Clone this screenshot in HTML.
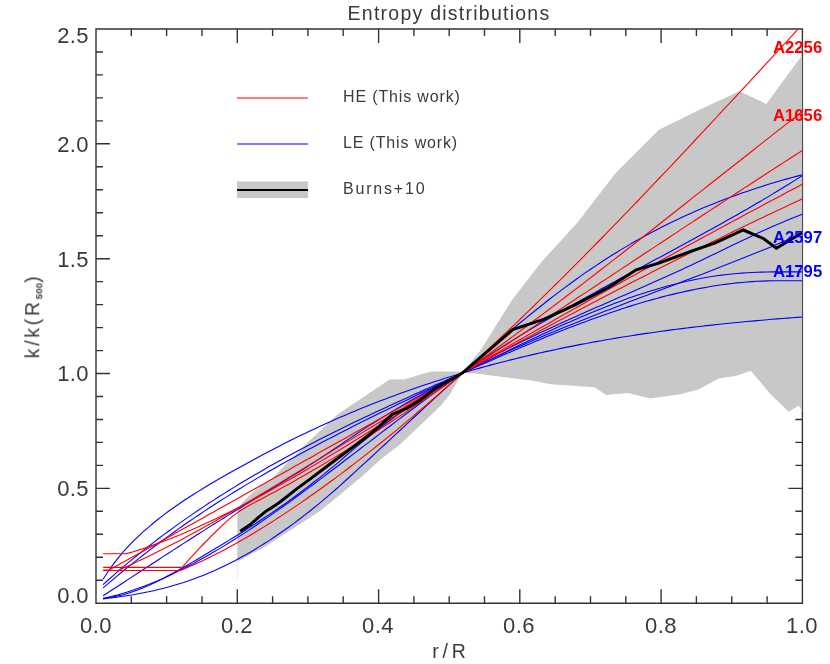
<!DOCTYPE html>
<html><head><meta charset="utf-8"><title>Entropy distributions</title>
<style>
html,body{margin:0;padding:0;background:#fff;}
body{width:830px;height:664px;position:relative;overflow:hidden;font-family:"Liberation Sans",sans-serif;}
.t{position:absolute;line-height:1;white-space:nowrap;will-change:transform;}
</style></head><body>
<svg width="830" height="664" viewBox="0 0 830 664" style="position:absolute;left:0;top:0">
<defs><clipPath id="cp"><rect x="96.0" y="29.0" width="706.4" height="574.2"/></clipPath></defs>
<path d="M96.0 29.0H802.4V603.2H96.0Z M96.0 29.0v14 M96.0 603.2v-14 M131.3 29.0v7 M131.3 603.2v-7 M166.6 29.0v7 M166.6 603.2v-7 M202.0 29.0v7 M202.0 603.2v-7 M237.3 29.0v14 M237.3 603.2v-14 M272.6 29.0v7 M272.6 603.2v-7 M307.9 29.0v7 M307.9 603.2v-7 M343.2 29.0v7 M343.2 603.2v-7 M378.6 29.0v14 M378.6 603.2v-14 M413.9 29.0v7 M413.9 603.2v-7 M449.2 29.0v7 M449.2 603.2v-7 M484.5 29.0v7 M484.5 603.2v-7 M519.8 29.0v14 M519.8 603.2v-14 M555.2 29.0v7 M555.2 603.2v-7 M590.5 29.0v7 M590.5 603.2v-7 M625.8 29.0v7 M625.8 603.2v-7 M661.1 29.0v14 M661.1 603.2v-14 M696.4 29.0v7 M696.4 603.2v-7 M731.8 29.0v7 M731.8 603.2v-7 M767.1 29.0v7 M767.1 603.2v-7 M802.4 29.0v14 M802.4 603.2v-14 M96.0 603.2h14 M802.4 603.2h-14 M96.0 580.2h7 M802.4 580.2h-7 M96.0 557.3h7 M802.4 557.3h-7 M96.0 534.3h7 M802.4 534.3h-7 M96.0 511.3h7 M802.4 511.3h-7 M96.0 488.4h14 M802.4 488.4h-14 M96.0 465.4h7 M802.4 465.4h-7 M96.0 442.4h7 M802.4 442.4h-7 M96.0 419.5h7 M802.4 419.5h-7 M96.0 396.5h7 M802.4 396.5h-7 M96.0 373.5h14 M802.4 373.5h-14 M96.0 350.6h7 M802.4 350.6h-7 M96.0 327.6h7 M802.4 327.6h-7 M96.0 304.6h7 M802.4 304.6h-7 M96.0 281.6h7 M802.4 281.6h-7 M96.0 258.7h14 M802.4 258.7h-14 M96.0 235.7h7 M802.4 235.7h-7 M96.0 212.7h7 M802.4 212.7h-7 M96.0 189.8h7 M802.4 189.8h-7 M96.0 166.8h7 M802.4 166.8h-7 M96.0 143.8h14 M802.4 143.8h-14 M96.0 120.9h7 M802.4 120.9h-7 M96.0 97.9h7 M802.4 97.9h-7 M96.0 74.9h7 M802.4 74.9h-7 M96.0 52.0h7 M802.4 52.0h-7 M96.0 29.0h14 M802.4 29.0h-14" fill="none" stroke="#333" stroke-width="1.4"/>
<g clip-path="url(#cp)" fill="none" stroke-linejoin="round">
<path d="M237.3 511.5 L238.3 508.6 L241.5 503.8 L245.1 499.8 L250.4 494.5 L255.7 490.0 L259.3 487.3 L271.4 479.0 L288.3 462.0 L309.3 441.0 L337.5 414.4 L389.5 379.4 L404.3 379.4 L430.7 371.6 L458.1 371.6 L462.3 373.1 L481.1 349.6 L498.0 322.2 L512.7 299.0 L542.2 261.1 L577.5 222.4 L615.9 172.7 L658.9 129.7 L700.0 109.4 L739.5 91.3 L766.3 103.9 L802.4 54.8 L802.4 412.3 L798.8 405.5 L788.7 411.8 L770.6 394.2 L750.8 370.8 L735.7 376.1 L718.8 378.6 L698.3 389.4 L680.2 394.2 L650.1 398.6 L628.4 393.0 L606.3 395.0 L594.2 387.3 L550.8 384.2 L531.6 380.6 L512.3 378.2 L476.0 373.4 L462.3 373.1 L449.6 394.8 L441.2 405.3 L400.0 444.5 L381.2 458.9 L361.3 477.0 L334.2 499.6 L320.0 511.0 L307.1 519.5 L286.5 532.7 L263.9 547.4 L237.3 561.5Z" fill="#c8c8c8" stroke="none"/>
<path d="M237.3 561V579" stroke="#ececec" stroke-width="1"/>
<path d="M103.1 579.3 L108.1 571.5 L113.2 564.4 L118.2 557.8 L123.2 551.8 L128.3 546.3 L133.3 541.1 L138.3 536.3 L143.3 531.7 L148.4 527.3 L153.4 523.0 L158.4 519.0 L163.5 515.1 L168.5 511.3 L173.5 507.7 L178.6 504.2 L183.6 500.8 L188.6 497.5 L193.7 494.3 L198.7 491.1 L203.7 488.0 L208.7 485.0 L213.8 482.0 L218.8 479.1 L223.8 476.2 L228.9 473.3 L233.9 470.5 L238.9 467.7 L244.0 464.9 L249.0 462.2 L254.0 459.4 L259.1 456.7 L264.1 454.0 L269.1 451.4 L274.2 448.7 L279.2 446.2 L284.2 443.6 L289.2 441.1 L294.3 438.6 L299.3 436.1 L304.3 433.7 L309.4 431.3 L314.4 428.9 L319.4 426.6 L324.5 424.3 L329.5 422.0 L334.5 419.8 L339.6 417.6 L344.6 415.4 L349.6 413.3 L354.6 411.2 L359.7 409.1 L364.7 407.1 L369.7 405.1 L374.8 403.1 L379.8 401.1 L384.8 399.2 L389.9 397.3 L394.9 395.4 L399.9 393.6 L405.0 391.8 L410.0 390.0 L415.0 388.3 L420.0 386.5 L425.1 384.8 L430.1 383.2 L435.1 381.5 L440.2 379.9 L445.2 378.3 L450.2 376.7 L455.3 375.2 L460.3 373.7 L465.3 372.2 L470.4 370.7 L475.4 369.3 L480.4 367.9 L485.5 366.5 L490.5 365.1 L495.5 363.8 L500.5 362.5 L505.6 361.2 L510.6 359.9 L515.6 358.7 L520.7 357.4 L525.7 356.2 L530.7 355.1 L535.8 353.9 L540.8 352.8 L545.8 351.6 L550.9 350.6 L555.9 349.5 L560.9 348.4 L565.9 347.4 L571.0 346.4 L576.0 345.4 L581.0 344.4 L586.1 343.5 L591.1 342.5 L596.1 341.6 L601.2 340.7 L606.2 339.8 L611.2 339.0 L616.3 338.1 L621.3 337.3 L626.3 336.5 L631.3 335.7 L636.4 334.9 L641.4 334.1 L646.4 333.4 L651.5 332.7 L656.5 332.0 L661.5 331.3 L666.6 330.6 L671.6 329.9 L676.6 329.3 L681.7 328.6 L686.7 328.0 L691.7 327.4 L696.8 326.8 L701.8 326.2 L706.8 325.6 L711.8 325.1 L716.9 324.5 L721.9 324.0 L726.9 323.5 L732.0 323.0 L737.0 322.5 L742.0 322.0 L747.1 321.5 L752.1 321.1 L757.1 320.6 L762.2 320.2 L767.2 319.7 L772.2 319.3 L777.2 318.9 L782.3 318.5 L787.3 318.1 L792.3 317.7 L797.4 317.4 L802.4 317.0" stroke="#0000ff" stroke-width="1.1"/>
<path d="M103.1 584.6 L108.1 580.0 L113.2 575.6 L118.2 571.2 L123.2 566.9 L128.3 562.7 L133.3 558.6 L138.3 554.5 L143.3 550.4 L148.4 546.5 L153.4 542.6 L158.4 538.7 L163.5 534.9 L168.5 531.2 L173.5 527.6 L178.6 523.9 L183.6 520.4 L188.6 516.9 L193.7 513.4 L198.7 510.0 L203.7 506.6 L208.7 503.3 L213.8 500.1 L218.8 496.8 L223.8 493.6 L228.9 490.5 L233.9 487.4 L238.9 484.3 L244.0 481.3 L249.0 478.3 L254.0 475.3 L259.1 472.4 L264.1 469.5 L269.1 466.6 L274.2 463.8 L279.2 461.0 L284.2 458.2 L289.2 455.5 L294.3 452.8 L299.3 450.1 L304.3 447.4 L309.4 444.8 L314.4 442.2 L319.4 439.6 L324.5 437.0 L329.5 434.5 L334.5 432.0 L339.6 429.5 L344.6 427.0 L349.6 424.6 L354.6 422.1 L359.7 419.7 L364.7 417.3 L369.7 415.0 L374.8 412.6 L379.8 410.2 L384.8 407.9 L389.9 405.6 L394.9 403.3 L399.9 401.0 L405.0 398.7 L410.0 396.4 L415.0 394.1 L420.0 391.9 L425.1 389.6 L430.1 387.4 L435.1 385.1 L440.2 382.9 L445.2 380.7 L450.2 378.4 L455.3 376.2 L460.3 374.0 L465.3 371.8 L470.4 369.5 L475.4 367.3 L480.4 365.1 L485.5 362.9 L490.5 360.7 L495.5 358.5 L500.5 356.3 L505.6 354.1 L510.6 352.0 L515.6 349.8 L520.7 347.6 L525.7 345.5 L530.7 343.4 L535.8 341.3 L540.8 339.2 L545.8 337.1 L550.9 335.1 L555.9 333.1 L560.9 331.1 L565.9 329.1 L571.0 327.1 L576.0 325.2 L581.0 323.3 L586.1 321.4 L591.1 319.5 L596.1 317.7 L601.2 315.9 L606.2 314.2 L611.2 312.4 L616.3 310.7 L621.3 309.1 L626.3 307.4 L631.3 305.9 L636.4 304.3 L641.4 302.8 L646.4 301.3 L651.5 299.9 L656.5 298.5 L661.5 297.1 L666.6 295.8 L671.6 294.6 L676.6 293.4 L681.7 292.2 L686.7 291.1 L691.7 290.1 L696.8 289.0 L701.8 288.1 L706.8 287.2 L711.8 286.3 L716.9 285.5 L721.9 284.8 L726.9 284.1 L732.0 283.5 L737.0 282.9 L742.0 282.5 L747.1 282.0 L752.1 281.6 L757.1 281.3 L762.2 281.1 L767.2 280.9 L772.2 280.8 L777.2 280.8 L782.3 280.8 L787.3 280.8 L792.3 280.8 L797.4 280.8 L802.4 280.8" stroke="#0000ff" stroke-width="1.1"/>
<path d="M103.1 587.9 L108.1 583.6 L113.2 579.4 L118.2 575.2 L123.2 571.0 L128.3 566.9 L133.3 562.9 L138.3 558.9 L143.3 555.0 L148.4 551.1 L153.4 547.3 L158.4 543.5 L163.5 539.8 L168.5 536.1 L173.5 532.5 L178.6 528.9 L183.6 525.3 L188.6 521.8 L193.7 518.4 L198.7 515.0 L203.7 511.6 L208.7 508.3 L213.8 505.0 L218.8 501.8 L223.8 498.6 L228.9 495.4 L233.9 492.3 L238.9 489.2 L244.0 486.1 L249.0 483.1 L254.0 480.1 L259.1 477.1 L264.1 474.2 L269.1 471.3 L274.2 468.4 L279.2 465.6 L284.2 462.7 L289.2 460.0 L294.3 457.2 L299.3 454.4 L304.3 451.7 L309.4 449.0 L314.4 446.4 L319.4 443.7 L324.5 441.1 L329.5 438.5 L334.5 435.9 L339.6 433.3 L344.6 430.7 L349.6 428.2 L354.6 425.6 L359.7 423.1 L364.7 420.6 L369.7 418.1 L374.8 415.6 L379.8 413.1 L384.8 410.7 L389.9 408.2 L394.9 405.8 L399.9 403.3 L405.0 400.9 L410.0 398.4 L415.0 396.0 L420.0 393.6 L425.1 391.1 L430.1 388.7 L435.1 386.3 L440.2 383.8 L445.2 381.4 L450.2 379.0 L455.3 376.5 L460.3 374.1 L465.3 371.6 L470.4 369.2 L475.4 366.7 L480.4 364.2 L485.5 361.8 L490.5 359.3 L495.5 356.9 L500.5 354.4 L505.6 351.9 L510.6 349.5 L515.6 347.1 L520.7 344.6 L525.7 342.2 L530.7 339.8 L535.8 337.5 L540.8 335.1 L545.8 332.7 L550.9 330.4 L555.9 328.1 L560.9 325.8 L565.9 323.6 L571.0 321.4 L576.0 319.2 L581.0 317.0 L586.1 314.9 L591.1 312.8 L596.1 310.7 L601.2 308.7 L606.2 306.7 L611.2 304.7 L616.3 302.8 L621.3 300.9 L626.3 299.1 L631.3 297.3 L636.4 295.6 L641.4 293.9 L646.4 292.3 L651.5 290.7 L656.5 289.2 L661.5 287.7 L666.6 286.3 L671.6 285.0 L676.6 283.7 L681.7 282.5 L686.7 281.3 L691.7 280.2 L696.8 279.2 L701.8 278.2 L706.8 277.3 L711.8 276.5 L716.9 275.8 L721.9 275.1 L726.9 274.5 L732.0 274.0 L737.0 273.5 L742.0 273.1 L747.1 272.8 L752.1 272.5 L757.1 272.3 L762.2 272.1 L767.2 272.0 L772.2 271.9 L777.2 271.9 L782.3 271.9 L787.3 271.9 L792.3 271.9 L797.4 271.9 L802.4 271.9" stroke="#0000ff" stroke-width="1.1"/>
<path d="M103.1 595.8 L108.1 592.5 L113.2 589.2 L118.2 586.0 L123.2 582.7 L128.2 579.4 L133.3 576.1 L138.3 572.8 L143.3 569.5 L148.4 566.3 L153.4 563.0 L158.4 559.7 L163.5 556.4 L168.5 553.2 L173.5 549.9 L178.5 546.7 L183.6 543.4 L188.6 540.2 L193.6 537.0 L198.7 533.8 L203.7 530.6 L208.7 527.4 L213.7 524.3 L218.8 521.1 L223.8 518.0 L228.8 514.9 L233.9 511.8 L238.9 508.7 L243.9 505.6 L249.0 502.5 L254.0 499.5 L259.0 496.4 L264.0 493.3 L269.1 490.3 L274.1 487.2 L279.1 484.1 L284.2 481.0 L289.2 477.9 L294.2 474.8 L299.3 471.7 L304.3 468.5 L309.3 465.3 L314.3 462.1 L319.4 458.8 L324.4 455.5 L329.4 452.2 L334.5 448.8 L339.5 445.4 L344.5 442.0 L349.5 438.6 L354.6 435.2 L359.6 431.9 L364.6 428.6 L369.7 425.4 L374.7 422.2 L379.7 419.1 L384.8 416.0 L389.8 412.9 L394.8 409.9 L399.8 406.9 L404.9 404.0 L409.9 401.1 L414.9 398.2 L420.0 395.4 L425.0 392.6 L430.0 389.9 L435.0 387.2 L440.1 384.5 L445.1 381.9 L450.1 379.3 L455.2 376.7 L460.2 374.2 L465.2 371.7 L470.3 369.2 L475.3 366.7 L480.3 364.3 L485.3 361.9 L490.4 359.5 L495.4 357.2 L500.4 354.9 L505.5 352.6 L510.5 350.3 L515.5 348.1 L520.5 345.9 L525.6 343.7 L530.6 341.5 L535.6 339.3 L540.7 337.2 L545.7 335.1 L550.7 333.0 L555.8 330.9 L560.8 328.8 L565.8 326.8 L570.8 324.7 L575.9 322.7 L580.9 320.7 L585.9 318.7 L591.0 316.7 L596.0 314.7 L601.0 312.8 L606.0 310.8 L611.1 308.9 L616.1 306.9 L621.1 305.0 L626.2 303.1 L631.2 301.1 L636.2 299.2 L641.3 297.3 L646.3 295.4 L651.3 293.5 L656.3 291.6 L661.4 289.7 L666.4 287.8 L671.4 285.9 L676.5 283.9 L681.5 282.0 L686.5 280.1 L691.6 278.2 L696.6 276.3 L701.6 274.4 L706.6 272.4 L711.7 270.5 L716.7 268.5 L721.7 266.6 L726.8 264.6 L731.8 262.6 L736.8 260.6 L741.8 258.6 L746.9 256.6 L751.9 254.6 L756.9 252.6 L762.0 250.5 L767.0 248.4 L772.0 246.4 L777.1 244.2 L782.1 242.1 L787.1 240.0 L792.1 237.8 L797.2 235.7 L802.2 233.5" stroke="#0000ff" stroke-width="1.1"/>
<path d="M103.1 598.3 L108.1 597.7 L113.2 596.9 L118.2 595.9 L123.2 594.7 L128.2 593.2 L133.3 591.5 L138.3 589.7 L143.3 587.7 L148.4 585.5 L153.4 583.2 L158.4 580.8 L163.5 578.3 L168.5 575.6 L173.5 572.9 L178.5 570.1 L183.6 567.3 L188.6 564.4 L193.6 561.4 L198.7 558.5 L203.7 555.5 L208.7 552.5 L213.7 549.5 L218.8 546.5 L223.8 543.5 L228.8 540.4 L233.9 537.3 L238.9 534.2 L243.9 531.0 L249.0 527.8 L254.0 524.6 L259.0 521.3 L264.0 518.0 L269.1 514.6 L274.1 511.2 L279.1 507.7 L284.2 504.2 L289.2 500.6 L294.2 497.0 L299.3 493.3 L304.3 489.5 L309.3 485.7 L314.3 481.8 L319.4 477.9 L324.4 473.9 L329.4 469.7 L334.5 465.6 L339.5 461.3 L344.5 457.0 L349.5 452.6 L354.6 448.3 L359.6 444.1 L364.6 440.0 L369.7 436.0 L374.7 432.0 L379.7 428.1 L384.8 424.3 L389.8 420.5 L394.8 416.8 L399.8 413.2 L404.9 409.6 L409.9 406.1 L414.9 402.7 L420.0 399.3 L425.0 396.0 L430.0 392.7 L435.0 389.5 L440.1 386.4 L445.1 383.3 L450.1 380.3 L455.2 377.3 L460.2 374.3 L465.2 371.4 L470.3 368.6 L475.3 365.8 L480.3 363.0 L485.3 360.3 L490.4 357.6 L495.4 355.0 L500.4 352.3 L505.5 349.8 L510.5 347.2 L515.5 344.7 L520.5 342.2 L525.6 339.8 L530.6 337.4 L535.6 335.0 L540.7 332.6 L545.7 330.2 L550.7 327.9 L555.8 325.6 L560.8 323.3 L565.8 321.0 L570.8 318.8 L575.9 316.5 L580.9 314.3 L585.9 312.0 L591.0 309.8 L596.0 307.6 L601.0 305.4 L606.0 303.2 L611.1 301.0 L616.1 298.8 L621.1 296.6 L626.2 294.4 L631.2 292.2 L636.2 290.0 L641.3 287.8 L646.3 285.6 L651.3 283.3 L656.3 281.1 L661.4 278.8 L666.4 276.6 L671.4 274.3 L676.5 272.0 L681.5 269.7 L686.5 267.3 L691.6 265.0 L696.6 262.6 L701.6 260.2 L706.6 257.8 L711.7 255.3 L716.7 252.9 L721.7 250.5 L726.8 248.0 L731.8 245.6 L736.8 243.2 L741.8 240.8 L746.9 238.4 L751.9 236.0 L756.9 233.6 L762.0 231.3 L767.0 229.0 L772.0 226.8 L777.1 224.6 L782.1 222.4 L787.1 220.3 L792.1 218.2 L797.2 216.2 L802.2 214.2" stroke="#0000ff" stroke-width="1.1"/>
<path d="M103.1 598.6 L108.1 597.4 L113.2 596.1 L118.2 594.8 L123.2 593.3 L128.2 591.7 L133.3 590.1 L138.3 588.3 L143.3 586.4 L148.4 584.5 L153.4 582.5 L158.4 580.4 L163.5 578.2 L168.5 575.9 L173.5 573.5 L178.5 571.1 L183.6 568.6 L188.6 566.0 L193.6 563.4 L198.7 560.6 L203.7 557.8 L208.7 555.0 L213.7 552.1 L218.8 549.1 L223.8 546.1 L228.8 543.0 L233.9 539.8 L238.9 536.6 L243.9 533.4 L249.0 530.1 L254.0 526.7 L259.0 523.3 L264.0 519.9 L269.1 516.4 L274.1 512.9 L279.1 509.4 L284.2 505.8 L289.2 502.2 L294.2 498.5 L299.3 494.8 L304.3 491.1 L309.3 487.4 L314.3 483.7 L319.4 479.9 L324.4 476.1 L329.4 472.3 L334.5 468.5 L339.5 464.7 L344.5 460.8 L349.5 457.0 L354.6 453.1 L359.6 449.3 L364.6 445.4 L369.7 441.6 L374.7 437.7 L379.7 433.9 L384.8 430.0 L389.8 426.2 L394.8 422.4 L399.8 418.6 L404.9 414.8 L409.9 411.0 L414.9 407.2 L420.0 403.5 L425.0 399.8 L430.0 396.1 L435.0 392.4 L440.1 388.8 L445.1 385.2 L450.1 381.6 L455.2 378.1 L460.2 374.6 L465.2 371.1 L470.3 367.7 L475.3 364.3 L480.3 361.0 L485.3 357.6 L490.4 354.4 L495.4 351.1 L500.4 347.9 L505.5 344.8 L510.5 341.6 L515.5 338.5 L520.5 335.4 L525.6 332.4 L530.6 329.3 L535.6 326.3 L540.7 323.3 L545.7 320.4 L550.7 317.5 L555.8 314.5 L560.8 311.7 L565.8 308.8 L570.8 305.9 L575.9 303.1 L580.9 300.3 L585.9 297.5 L591.0 294.7 L596.0 291.9 L601.0 289.1 L606.0 286.4 L611.1 283.6 L616.1 280.9 L621.1 278.1 L626.2 275.4 L631.2 272.7 L636.2 270.0 L641.3 267.3 L646.3 264.6 L651.3 261.8 L656.3 259.1 L661.4 256.4 L666.4 253.7 L671.4 251.0 L676.5 248.3 L681.5 245.6 L686.5 242.8 L691.6 240.1 L696.6 237.3 L701.6 234.6 L706.6 231.8 L711.7 229.0 L716.7 226.2 L721.7 223.4 L726.8 220.6 L731.8 217.8 L736.8 214.9 L741.8 212.0 L746.9 209.2 L751.9 206.2 L756.9 203.3 L762.0 200.4 L767.0 197.4 L772.0 194.4 L777.1 191.3 L782.1 188.3 L787.1 185.2 L792.1 182.1 L797.2 178.9 L802.2 175.8" stroke="#0000ff" stroke-width="1.1"/>
<path d="M103.1 598.9 L108.1 598.3 L113.2 597.7 L118.2 597.0 L123.2 596.3 L128.2 595.5 L133.3 594.7 L138.3 593.8 L143.3 592.8 L148.4 591.8 L153.4 590.7 L158.4 589.5 L163.5 588.3 L168.5 587.0 L173.5 585.5 L178.5 584.0 L183.6 582.5 L188.6 580.8 L193.6 579.0 L198.7 577.1 L203.7 575.2 L208.7 573.1 L213.7 570.9 L218.8 568.6 L223.8 566.2 L228.8 563.8 L233.9 561.2 L238.9 558.5 L243.9 555.8 L249.0 552.9 L254.0 550.0 L259.0 546.9 L264.0 543.8 L269.1 540.6 L274.1 537.2 L279.1 533.8 L284.2 530.3 L289.2 526.7 L294.2 523.1 L299.3 519.3 L304.3 515.4 L309.3 511.5 L314.3 507.5 L319.4 503.4 L324.4 499.2 L329.4 494.9 L334.5 490.5 L339.5 486.1 L344.5 481.5 L349.5 477.0 L354.6 472.4 L359.6 467.7 L364.6 463.1 L369.7 458.5 L374.7 453.8 L379.7 449.2 L384.8 444.5 L389.8 439.8 L394.8 435.2 L399.8 430.5 L404.9 425.8 L409.9 421.2 L414.9 416.5 L420.0 411.9 L425.0 407.2 L430.0 402.6 L435.0 397.9 L440.1 393.3 L445.1 388.7 L450.1 384.1 L455.2 379.6 L460.2 375.0 L465.2 370.5 L470.3 366.0 L475.3 361.5 L480.3 357.0 L485.3 352.6 L490.4 348.2 L495.4 343.8 L500.4 339.5 L505.5 335.2 L510.5 330.9 L515.5 326.7 L520.5 322.5 L525.6 318.4 L530.6 314.3 L535.6 310.2 L540.7 306.2 L545.7 302.2 L550.7 298.3 L555.8 294.4 L560.8 290.6 L565.8 286.9 L570.8 283.2 L575.9 279.5 L580.9 275.9 L585.9 272.4 L591.0 269.0 L596.0 265.6 L601.0 262.2 L606.0 259.0 L611.1 255.8 L616.1 252.7 L621.1 249.6 L626.2 246.6 L631.2 243.6 L636.2 240.8 L641.3 238.0 L646.3 235.2 L651.3 232.5 L656.3 229.9 L661.4 227.3 L666.4 224.8 L671.4 222.3 L676.5 219.9 L681.5 217.5 L686.5 215.2 L691.6 213.0 L696.6 210.8 L701.6 208.6 L706.6 206.5 L711.7 204.5 L716.7 202.5 L721.7 200.5 L726.8 198.6 L731.8 196.7 L736.8 194.9 L741.8 193.1 L746.9 191.4 L751.9 189.7 L756.9 188.0 L762.0 186.4 L767.0 184.8 L772.0 183.3 L777.1 181.8 L782.1 180.3 L787.1 178.9 L792.1 177.5 L797.2 176.1 L802.2 174.8" stroke="#0000ff" stroke-width="1.1"/>
<path d="M103.1 570.5 L180.3 570.5 L184.8 568.8 L189.2 566.8 L193.7 564.8 L198.2 562.8 L202.7 560.7 L207.1 558.5 L211.6 556.3 L216.1 554.1 L220.6 551.8 L225.0 549.4 L229.5 547.0 L234.0 544.5 L238.5 542.0 L242.9 539.5 L247.4 536.9 L251.9 534.2 L256.4 531.5 L260.8 528.8 L265.3 526.1 L269.8 523.3 L274.3 520.4 L278.7 517.5 L283.2 514.6 L287.7 511.6 L292.2 508.6 L296.6 505.6 L301.1 502.6 L305.6 499.5 L310.0 496.3 L314.5 493.2 L319.0 490.0 L323.5 486.8 L327.9 483.5 L332.4 480.2 L336.9 476.9 L341.4 473.6 L345.8 470.2 L350.3 466.8 L354.8 463.4 L359.3 459.9 L363.7 456.4 L368.2 452.9 L372.7 449.4 L377.2 445.8 L381.6 442.2 L386.1 438.6 L390.6 435.0 L395.1 431.3 L399.5 427.6 L404.0 423.9 L408.5 420.1 L413.0 416.3 L417.4 412.5 L421.9 408.7 L426.4 404.9 L430.8 401.0 L435.3 397.1 L439.8 393.2 L444.3 389.2 L448.7 385.3 L453.2 381.3 L457.7 377.3 L462.2 373.2 L466.6 369.2 L471.1 365.1 L475.6 361.0 L480.1 356.9 L484.5 352.8 L489.0 348.6 L493.5 344.4 L498.0 340.2 L502.4 336.0 L506.9 331.8 L511.4 327.5 L515.9 323.3 L520.3 319.0 L524.8 314.7 L529.3 310.3 L533.8 306.0 L538.2 301.6 L542.7 297.2 L547.2 292.9 L551.7 288.4 L556.1 284.0 L560.6 279.6 L565.1 275.1 L569.5 270.6 L574.0 266.2 L578.5 261.7 L583.0 257.1 L587.4 252.6 L591.9 248.1 L596.4 243.5 L600.9 239.0 L605.3 234.4 L609.8 229.8 L614.3 225.2 L618.8 220.6 L623.2 215.9 L627.7 211.3 L632.2 206.6 L636.7 202.0 L641.1 197.3 L645.6 192.6 L650.1 187.9 L654.6 183.2 L659.0 178.5 L663.5 173.8 L668.0 169.1 L672.5 164.3 L676.9 159.6 L681.4 154.8 L685.9 150.1 L690.3 145.3 L694.8 140.5 L699.3 135.7 L703.8 130.9 L708.2 126.2 L712.7 121.4 L717.2 116.5 L721.7 111.7 L726.1 106.9 L730.6 102.1 L735.1 97.3 L739.6 92.4 L744.0 87.6 L748.5 82.8 L753.0 77.9 L757.5 73.1 L761.9 68.3 L766.4 63.4 L770.9 58.6 L775.4 53.7 L779.8 48.9 L784.3 44.0 L788.8 39.1 L793.3 34.3 L797.7 29.4 L802.2 24.6" stroke="#ff0000" stroke-width="1.1"/>
<path d="M103.1 567.4 L182.2 567.4 L186.7 562.2 L191.1 557.2 L195.6 552.4 L200.0 547.6 L204.5 543.0 L209.0 538.4 L213.4 534.0 L217.9 529.6 L222.3 525.3 L226.8 521.2 L231.3 517.4 L235.7 513.9 L240.2 510.8 L244.6 508.0 L249.1 505.4 L253.6 503.1 L258.0 500.7 L262.5 498.4 L266.9 496.0 L271.4 493.6 L275.9 491.2 L280.3 488.8 L284.8 486.3 L289.3 483.9 L293.7 481.4 L298.2 478.8 L302.6 476.3 L307.1 473.7 L311.6 471.1 L316.0 468.5 L320.5 465.9 L324.9 463.3 L329.4 460.6 L333.9 457.9 L338.3 455.2 L342.8 452.5 L347.2 449.7 L351.7 447.0 L356.2 444.2 L360.6 441.4 L365.1 438.6 L369.5 435.7 L374.0 432.9 L378.5 430.0 L382.9 427.1 L387.4 424.2 L391.8 421.3 L396.3 418.4 L400.8 415.4 L405.2 412.4 L409.7 409.4 L414.1 406.4 L418.6 403.4 L423.1 400.4 L427.5 397.3 L432.0 394.3 L436.4 391.2 L440.9 388.1 L445.4 385.0 L449.8 381.9 L454.3 378.8 L458.7 375.6 L463.2 372.5 L467.7 369.3 L472.1 366.1 L476.6 362.9 L481.0 359.7 L485.5 356.5 L490.0 353.2 L494.4 350.0 L498.9 346.7 L503.4 343.5 L507.8 340.2 L512.3 336.9 L516.7 333.6 L521.2 330.3 L525.7 327.0 L530.1 323.7 L534.6 320.3 L539.0 317.0 L543.5 313.6 L548.0 310.3 L552.4 306.9 L556.9 303.5 L561.3 300.1 L565.8 296.7 L570.3 293.3 L574.7 289.9 L579.2 286.5 L583.6 283.1 L588.1 279.6 L592.6 276.2 L597.0 272.8 L601.5 269.3 L605.9 265.9 L610.4 262.4 L614.9 258.9 L619.3 255.5 L623.8 252.0 L628.2 248.5 L632.7 245.0 L637.2 241.5 L641.6 238.0 L646.1 234.5 L650.5 231.0 L655.0 227.5 L659.5 224.0 L663.9 220.5 L668.4 217.0 L672.8 213.5 L677.3 210.0 L681.8 206.5 L686.2 203.0 L690.7 199.4 L695.1 195.9 L699.6 192.4 L704.1 188.9 L708.5 185.3 L713.0 181.8 L717.5 178.3 L721.9 174.8 L726.4 171.3 L730.8 167.7 L735.3 164.2 L739.8 160.7 L744.2 157.2 L748.7 153.7 L753.1 150.2 L757.6 146.6 L762.1 143.1 L766.5 139.6 L771.0 136.1 L775.4 132.6 L779.9 129.1 L784.4 125.6 L788.8 122.1 L793.3 118.7 L797.7 115.2 L802.2 111.7" stroke="#ff0000" stroke-width="1.1"/>
<path d="M103.1 553.7 L126.0 553.7 L130.9 552.4 L135.7 550.9 L140.6 549.4 L145.5 547.7 L150.3 546.1 L155.2 544.4 L160.1 542.6 L164.9 540.7 L169.8 538.9 L174.6 536.9 L179.5 535.0 L184.4 532.9 L189.2 530.8 L194.1 528.7 L199.0 526.6 L203.8 524.3 L208.7 522.1 L213.6 519.8 L218.4 517.5 L223.3 515.1 L228.2 512.7 L233.0 510.2 L237.9 507.8 L242.8 505.2 L247.6 502.7 L252.5 500.1 L257.3 497.5 L262.2 494.9 L267.1 492.2 L271.9 489.5 L276.8 486.8 L281.7 484.0 L286.5 481.3 L291.4 478.5 L296.3 475.7 L301.1 472.9 L306.0 470.0 L310.9 467.1 L315.7 464.3 L320.6 461.4 L325.5 458.5 L330.3 455.5 L335.2 452.6 L340.0 449.7 L344.9 446.7 L349.8 443.7 L354.6 440.8 L359.5 437.8 L364.4 434.8 L369.2 431.8 L374.1 428.8 L379.0 425.8 L383.8 422.8 L388.7 419.7 L393.6 416.7 L398.4 413.7 L403.3 410.6 L408.2 407.6 L413.0 404.5 L417.9 401.4 L422.7 398.3 L427.6 395.3 L432.5 392.2 L437.3 389.1 L442.2 386.0 L447.1 382.9 L451.9 379.8 L456.8 376.6 L461.7 373.5 L466.5 370.4 L471.4 367.3 L476.3 364.1 L481.1 361.0 L486.0 357.8 L490.9 354.7 L495.7 351.5 L500.6 348.3 L505.5 345.2 L510.3 342.0 L515.2 338.8 L520.0 335.7 L524.9 332.5 L529.8 329.3 L534.6 326.1 L539.5 322.9 L544.4 319.7 L549.2 316.5 L554.1 313.3 L559.0 310.1 L563.8 306.9 L568.7 303.7 L573.6 300.5 L578.4 297.3 L583.3 294.1 L588.2 290.9 L593.0 287.7 L597.9 284.5 L602.7 281.3 L607.6 278.1 L612.5 274.8 L617.3 271.6 L622.2 268.4 L627.1 265.2 L631.9 262.0 L636.8 258.8 L641.7 255.5 L646.5 252.3 L651.4 249.1 L656.3 245.9 L661.1 242.7 L666.0 239.5 L670.9 236.3 L675.7 233.1 L680.6 229.9 L685.4 226.6 L690.3 223.4 L695.2 220.2 L700.0 217.0 L704.9 213.8 L709.8 210.6 L714.6 207.5 L719.5 204.3 L724.4 201.1 L729.2 197.9 L734.1 194.7 L739.0 191.5 L743.8 188.4 L748.7 185.2 L753.6 182.0 L758.4 178.8 L763.3 175.7 L768.1 172.5 L773.0 169.4 L777.9 166.2 L782.7 163.1 L787.6 160.0 L792.5 156.8 L797.3 153.7 L802.2 150.6" stroke="#ff0000" stroke-width="1.1"/>
<path d="M103.1 570.5 L117.7 570.5 L122.6 568.4 L127.5 566.2 L132.5 563.9 L137.4 561.6 L142.3 559.3 L147.2 556.9 L152.2 554.5 L157.1 552.1 L162.0 549.6 L166.9 547.1 L171.9 544.5 L176.8 542.0 L181.7 539.4 L186.6 536.7 L191.6 534.1 L196.5 531.4 L201.4 528.7 L206.3 525.9 L211.3 523.2 L216.2 520.4 L221.1 517.6 L226.0 514.8 L231.0 511.9 L235.9 509.1 L240.8 506.2 L245.7 503.3 L250.7 500.4 L255.6 497.5 L260.5 494.5 L265.4 491.6 L270.4 488.6 L275.3 485.6 L280.2 482.7 L285.1 479.7 L290.1 476.7 L295.0 473.7 L299.9 470.7 L304.8 467.7 L309.8 464.6 L314.7 461.6 L319.6 458.6 L324.5 455.6 L329.5 452.6 L334.4 449.6 L339.3 446.6 L344.2 443.6 L349.1 440.6 L354.1 437.6 L359.0 434.6 L363.9 431.6 L368.8 428.7 L373.8 425.7 L378.7 422.7 L383.6 419.8 L388.5 416.8 L393.5 413.9 L398.4 410.9 L403.3 408.0 L408.2 405.0 L413.2 402.1 L418.1 399.2 L423.0 396.3 L427.9 393.3 L432.9 390.4 L437.8 387.5 L442.7 384.6 L447.6 381.7 L452.6 378.8 L457.5 375.9 L462.4 373.0 L467.3 370.2 L472.3 367.3 L477.2 364.4 L482.1 361.6 L487.0 358.7 L492.0 355.8 L496.9 353.0 L501.8 350.1 L506.7 347.3 L511.7 344.4 L516.6 341.6 L521.5 338.8 L526.4 336.0 L531.4 333.1 L536.3 330.3 L541.2 327.5 L546.1 324.7 L551.1 321.9 L556.0 319.1 L560.9 316.3 L565.8 313.5 L570.8 310.7 L575.7 307.9 L580.6 305.2 L585.5 302.4 L590.4 299.6 L595.4 296.8 L600.3 294.1 L605.2 291.3 L610.1 288.6 L615.1 285.8 L620.0 283.1 L624.9 280.3 L629.8 277.6 L634.8 274.9 L639.7 272.1 L644.6 269.4 L649.5 266.7 L654.5 264.0 L659.4 261.3 L664.3 258.6 L669.2 255.9 L674.2 253.2 L679.1 250.5 L684.0 247.8 L688.9 245.1 L693.9 242.4 L698.8 239.7 L703.7 237.0 L708.6 234.4 L713.6 231.7 L718.5 229.0 L723.4 226.4 L728.3 223.7 L733.3 221.1 L738.2 218.4 L743.1 215.8 L748.0 213.1 L753.0 210.5 L757.9 207.9 L762.8 205.2 L767.7 202.6 L772.7 200.0 L777.6 197.4 L782.5 194.8 L787.4 192.1 L792.4 189.5 L797.3 186.9 L802.2 184.3" stroke="#ff0000" stroke-width="1.1"/>
<path d="M103.1 570.0 L109.0 570.0 L114.0 567.2 L119.0 564.5 L124.0 561.7 L128.9 559.0 L133.9 556.2 L138.9 553.5 L143.9 550.7 L148.9 548.0 L153.9 545.2 L158.9 542.4 L163.9 539.7 L168.8 536.9 L173.8 534.1 L178.8 531.3 L183.8 528.6 L188.8 525.8 L193.8 523.0 L198.8 520.2 L203.8 517.4 L208.7 514.6 L213.7 511.9 L218.7 509.1 L223.7 506.3 L228.7 503.5 L233.7 500.7 L238.7 497.9 L243.7 495.1 L248.6 492.3 L253.6 489.5 L258.6 486.7 L263.6 483.9 L268.6 481.1 L273.6 478.3 L278.6 475.5 L283.5 472.7 L288.5 469.9 L293.5 467.1 L298.5 464.3 L303.5 461.5 L308.5 458.7 L313.5 455.9 L318.5 453.1 L323.4 450.3 L328.4 447.5 L333.4 444.7 L338.4 442.0 L343.4 439.2 L348.4 436.4 L353.4 433.6 L358.4 430.8 L363.3 428.0 L368.3 425.2 L373.3 422.4 L378.3 419.6 L383.3 416.9 L388.3 414.1 L393.3 411.3 L398.2 408.5 L403.2 405.8 L408.2 403.0 L413.2 400.2 L418.2 397.4 L423.2 394.7 L428.2 391.9 L433.2 389.2 L438.1 386.4 L443.1 383.7 L448.1 380.9 L453.1 378.2 L458.1 375.4 L463.1 372.7 L468.1 369.9 L473.1 367.2 L478.0 364.5 L483.0 361.7 L488.0 359.0 L493.0 356.3 L498.0 353.6 L503.0 350.9 L508.0 348.2 L513.0 345.5 L517.9 342.8 L522.9 340.1 L527.9 337.4 L532.9 334.7 L537.9 332.0 L542.9 329.3 L547.9 326.7 L552.8 324.0 L557.8 321.3 L562.8 318.7 L567.8 316.0 L572.8 313.4 L577.8 310.7 L582.8 308.1 L587.8 305.5 L592.7 302.8 L597.7 300.2 L602.7 297.6 L607.7 295.0 L612.7 292.4 L617.7 289.8 L622.7 287.2 L627.7 284.6 L632.6 282.1 L637.6 279.5 L642.6 276.9 L647.6 274.4 L652.6 271.8 L657.6 269.3 L662.6 266.8 L667.5 264.2 L672.5 261.7 L677.5 259.2 L682.5 256.7 L687.5 254.2 L692.5 251.7 L697.5 249.2 L702.5 246.7 L707.4 244.3 L712.4 241.8 L717.4 239.4 L722.4 236.9 L727.4 234.5 L732.4 232.1 L737.4 229.6 L742.4 227.2 L747.3 224.8 L752.3 222.4 L757.3 220.0 L762.3 217.7 L767.3 215.3 L772.3 212.9 L777.3 210.6 L782.3 208.3 L787.2 205.9 L792.2 203.6 L797.2 201.3 L802.2 199.0" stroke="#ff0000" stroke-width="1.1"/>
<path d="M240.3 531.3 L250.3 524.6 L257.0 518.6 L265.4 511.6 L275.0 505.6 L281.0 501.2 L296.7 488.9 L310.0 479.1 L330.4 463.8 L340.0 456.6 L369.0 435.0 L380.0 425.6 L392.4 414.4 L406.7 408.3 L420.0 400.3 L434.9 388.7 L462.3 373.1 L512.7 329.6 L544.3 319.1 L576.0 304.3 L609.2 287.0 L636.3 269.8 L658.9 263.1 L690.0 251.7 L715.3 242.9 L743.3 230.0 L763.8 238.7 L776.4 248.2 L802.2 232.8" stroke="#000" stroke-width="3.0" stroke-linejoin="miter"/>
</g>
<rect x="237" y="181.5" width="71" height="16.5" fill="#c8c8c8"/>
<path d="M237 98H308" stroke="#ff0000" stroke-width="1.1"/>
<path d="M237 144H308" stroke="#0000ff" stroke-width="1.1"/>
<path d="M237 190H308" stroke="#000" stroke-width="2.2"/>
</svg>
<div class="t" style="left:95.5px;top:614.8px;font-size:22.0px;color:#3a3a3a;letter-spacing:0.40px;transform:translate(-50%,0);">0.0</div>
<div class="t" style="left:236.8px;top:614.8px;font-size:22.0px;color:#3a3a3a;letter-spacing:0.40px;transform:translate(-50%,0);">0.2</div>
<div class="t" style="left:378.1px;top:614.8px;font-size:22.0px;color:#3a3a3a;letter-spacing:0.40px;transform:translate(-50%,0);">0.4</div>
<div class="t" style="left:519.3px;top:614.8px;font-size:22.0px;color:#3a3a3a;letter-spacing:0.40px;transform:translate(-50%,0);">0.6</div>
<div class="t" style="left:660.6px;top:614.8px;font-size:22.0px;color:#3a3a3a;letter-spacing:0.40px;transform:translate(-50%,0);">0.8</div>
<div class="t" style="left:801.9px;top:614.8px;font-size:22.0px;color:#3a3a3a;letter-spacing:0.40px;transform:translate(-50%,0);">1.0</div>
<div class="t" style="left:89.0px;top:585.1px;font-size:22.0px;color:#3a3a3a;letter-spacing:0.40px;transform:translate(-100%,0);">0.0</div>
<div class="t" style="left:89.0px;top:478.1px;font-size:22.0px;color:#3a3a3a;letter-spacing:0.40px;transform:translate(-100%,0);">0.5</div>
<div class="t" style="left:89.0px;top:363.3px;font-size:22.0px;color:#3a3a3a;letter-spacing:0.40px;transform:translate(-100%,0);">1.0</div>
<div class="t" style="left:89.0px;top:248.5px;font-size:22.0px;color:#3a3a3a;letter-spacing:0.40px;transform:translate(-100%,0);">1.5</div>
<div class="t" style="left:89.0px;top:133.6px;font-size:22.0px;color:#3a3a3a;letter-spacing:0.40px;transform:translate(-100%,0);">2.0</div>
<div class="t" style="left:89.0px;top:25.0px;font-size:22.0px;color:#3a3a3a;letter-spacing:0.40px;transform:translate(-100%,0);">2.5</div>
<div class="t" style="left:449.3px;top:4.0px;font-size:19.5px;color:#3a3a3a;letter-spacing:1.25px;transform:translate(-50%,0);">Entropy distributions</div>
<div class="t" style="left:450.5px;top:641.9px;font-size:19.5px;color:#3a3a3a;letter-spacing:3.80px;transform:translate(-50%,0);">r/R</div>
<div class="t" style="left:343.0px;top:89.2px;font-size:16.0px;color:#3a3a3a;letter-spacing:0.85px;transform:translate(0,0);">HE (This work)</div>
<div class="t" style="left:343.0px;top:135.3px;font-size:16.0px;color:#3a3a3a;letter-spacing:0.85px;transform:translate(0,0);">LE (This work)</div>
<div class="t" style="left:343.0px;top:181.3px;font-size:16.0px;color:#3a3a3a;letter-spacing:1.80px;transform:translate(0,0);">Burns+10</div>
<div class="t" style="left:773.3px;top:40.2px;font-size:16.7px;color:#ff0000;font-weight:bold;letter-spacing:0.00px;transform:translate(0,0);">A2256</div>
<div class="t" style="left:773.3px;top:107.9px;font-size:16.7px;color:#ff0000;font-weight:bold;letter-spacing:0.00px;transform:translate(0,0);">A1656</div>
<div class="t" style="left:773.3px;top:229.8px;font-size:16.7px;color:#0000ff;font-weight:bold;letter-spacing:0.00px;transform:translate(0,0);">A2597</div>
<div class="t" style="left:773.3px;top:263.5px;font-size:16.7px;color:#0000ff;font-weight:bold;letter-spacing:0.00px;transform:translate(0,0);">A1795</div>
<div class="t" style="left:33.3px;top:316.3px;font-size:19.5px;color:#3a3a3a;letter-spacing:2.7px;transform:translate(-50%,-50%) rotate(-90deg);">k/k(R<span style="font-size:9.5px;font-weight:bold;letter-spacing:0.2px;position:relative;top:3px">500</span>)</div>
</body></html>
